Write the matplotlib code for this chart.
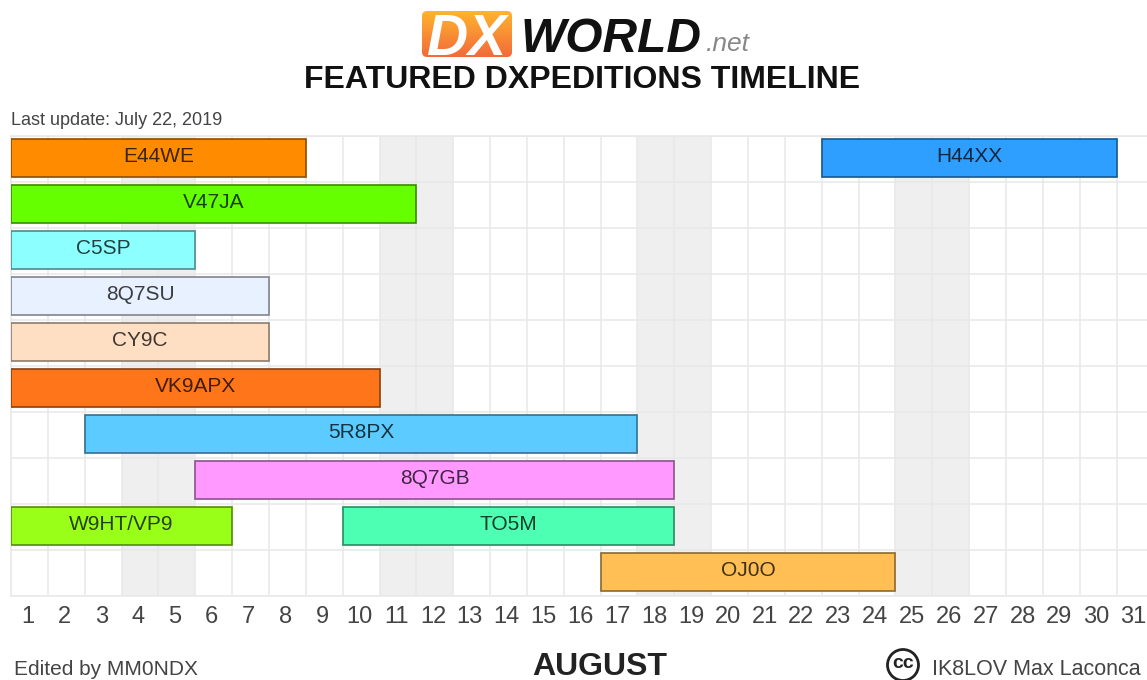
import numpy as np
import matplotlib
matplotlib.use("Agg")
import matplotlib.pyplot as plt
from matplotlib.colors import LinearSegmentedColormap, to_rgb
from matplotlib.patches import Circle, FancyBboxPatch

plt.rcParams['font.family'] = ['Liberation Sans', 'DejaVu Sans']

W = 1147
H = 680

# row index from the top, first day, last day
calls = ["E44WE", "H44XX", "V47JA", "C5SP", "8Q7SU", "CY9C", "VK9APX", "5R8PX", "8Q7GB", "W9HT/VP9", "TO5M", "OJ0O"]
rows = [0, 0, 1, 2, 3, 4, 5, 6, 7, 8, 8, 9]
first_day = [1, 23, 1, 1, 1, 1, 1, 3, 6, 1, 10, 17]
last_day = [8, 30, 11, 5, 7, 7, 10, 17, 18, 6, 18, 24]
colors = ["#ff8c00", "#2e9fff", "#66ff00", "#8cffff", "#e8f1ff", "#ffdfc4", "#ff751a",
          "#5ccbff", "#ff99ff", "#99ff19", "#4dffb2", "#ffbf55"]
days = list(range(1, 32))
weekends = [4, 5, 11, 12, 18, 19, 25, 26]
n_rows = 10


def fx(px):
    return px / W


def fy(px):
    return 1 - px / H


def darker(color):
    return tuple(c * 0.55 for c in to_rgb(color))


fig = plt.figure(figsize=(W / 100, H / 100), dpi=100)

# the month runs off the right edge of the picture, as in the original
ax = fig.add_axes([fx(11), fy(596), 31 * 36.85 / W, 460 / H])
ax.set_xlim(0, 31)
ax.set_ylim(n_rows, 0)

for d in weekends:
    ax.axvspan(d - 1, d, color="#efefef", lw=0, zorder=0)

ax.set_xticks(range(0, 32))
ax.set_yticks(range(0, n_rows + 1))
ax.grid(True, color="#e8e8e8", lw=1.1, zorder=1)
ax.set_axisbelow(True)
ax.tick_params(length=0, labelbottom=False, labelleft=False)
for s in ax.spines.values():
    s.set_color("#e8e8e8")
    s.set_linewidth(1.1)

ax.set_xticks([d - 0.55 for d in days], minor=True)
ax.set_xticklabels([str(d) for d in days], minor=True, fontsize=17, color="#444444")
ax.tick_params(axis="x", which="minor", length=0, pad=7.5, labelbottom=True)

for i in range(len(calls)):
    start = first_day[i] - 1
    width = last_day[i] - start
    ax.barh(rows[i] + 0.48, width, left=start, height=0.83, color=colors[i],
            edgecolor=darker(colors[i]), lw=1.2, zorder=3)
    ax.text(start + width / 2, rows[i] + 0.44, calls[i], fontsize=15, color="black", alpha=0.75,
            ha="center", va="center", zorder=4)

# logo
logo = fig.add_axes([fx(421), fy(58), 92 / W, 48 / H])
logo.set_xlim(0, 92)
logo.set_ylim(48, 0)
logo.axis("off")
grad = LinearSegmentedColormap.from_list("logo", ["#ffb52e", "#f2693a"])
im = logo.imshow(np.linspace(0, 1, 48).reshape(-1, 1), cmap=grad, aspect="auto", extent=(0, 92, 48, 0))
box = FancyBboxPatch((1, 1), 90, 46, boxstyle="round,pad=0,rounding_size=5", fc="none", ec="none",
                     transform=logo.transData)
logo.add_patch(box)
im.set_clip_path(box)
logo.text(46, 24, "DX", fontsize=41, fontweight="bold", fontstyle="italic", color="white",
          ha="center", va="center_baseline")

fig.text(fx(521), fy(52), "WORLD", fontsize=34.5, fontweight="bold", fontstyle="italic", color="#111111",
         ha="left", va="baseline")
fig.text(fx(706), fy(51), ".net", fontsize=19, fontstyle="italic", color="#888888", ha="left", va="baseline")

fig.text(fx(582), fy(88), "FEATURED DXPEDITIONS TIMELINE", fontsize=23, fontweight="bold", color="#111111",
         ha="center", va="baseline")
fig.text(fx(11), fy(125), "Last update: July 22, 2019", fontsize=13, color="#444444", ha="left", va="baseline")
fig.text(fx(14), fy(675), "Edited by MM0NDX", fontsize=15, color="#444444", ha="left", va="baseline")
fig.text(fx(600), fy(675), "AUGUST", fontsize=23, fontweight="bold", color="#222222", ha="center", va="baseline")
fig.text(fx(1141), fy(675), "IK8LOV Max Laconca", fontsize=15.5, color="#444444", ha="right", va="baseline")

# cc badge
cc = fig.add_axes([fx(885), fy(683), 36 / W, 36 / H])
cc.set_xlim(0, 36)
cc.set_ylim(36, 0)
cc.axis("off")
cc.add_patch(Circle((18, 18), 15.5, fc="white", ec="#222222", lw=2))
cc.text(18, 17, "cc", fontsize=14, fontweight="bold", color="#222222", ha="center", va="center")

fig.savefig("out.png", dpi=100)
